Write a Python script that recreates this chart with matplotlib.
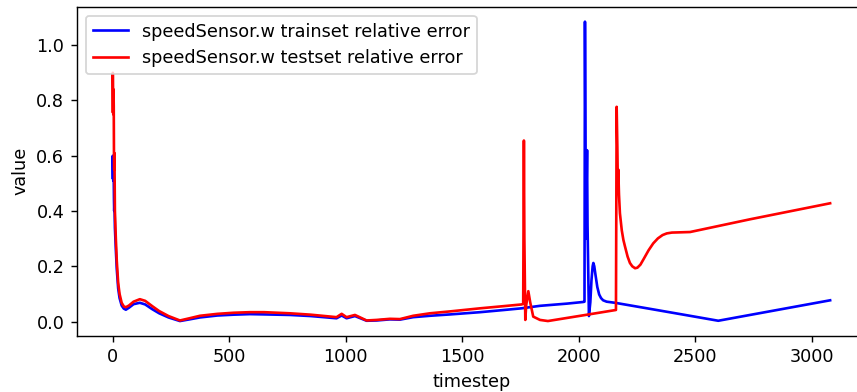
import matplotlib
matplotlib.use("Agg")
import matplotlib.pyplot as plt

train_x = [0, 1, 2, 3, 4, 5, 6, 7, 8, 10, 14, 18, 24, 30, 39, 48, 57, 70, 90, 117, 140, 170,
           200, 240, 289, 330, 375, 450, 520, 589, 650, 761, 850, 961, 983, 1004, 1040, 1090,
           1133, 1190, 1233, 1290, 1362, 1450, 1577, 1680, 1755, 1834, 1950, 2020, 2025, 2027,
           2031, 2036, 2038, 2044, 2050, 2055, 2060, 2063, 2067, 2072, 2080, 2088, 2096, 2105,
           2120, 2156, 2300, 2450, 2599, 2800, 3079]
train_y = [0.52, 0.60, 0.55, 0.51, 0.56, 0.52, 0.44, 0.40, 0.43, 0.34, 0.26, 0.19, 0.12, 0.085,
           0.058, 0.047, 0.043, 0.050, 0.063, 0.068, 0.062, 0.045, 0.030, 0.015, 0.002, 0.008,
           0.015, 0.022, 0.025, 0.027, 0.026, 0.024, 0.020, 0.012, 0.022, 0.012, 0.020, 0.003,
           0.004, 0.008, 0.007, 0.016, 0.021, 0.026, 0.034, 0.042, 0.048, 0.057, 0.065, 0.071,
           0.072, 1.085, 0.30, 0.62, 0.35, 0.02, 0.07, 0.15, 0.20, 0.212, 0.20, 0.17, 0.125,
           0.098, 0.085, 0.077, 0.072, 0.068, 0.047, 0.025, 0.003, 0.034, 0.077]

test_x = [0, 1, 2, 3, 4, 5, 6, 7, 8, 10, 14, 18, 24, 30, 39, 48, 57, 70, 90, 117, 140, 170,
          200, 240, 289, 330, 375, 450, 520, 589, 650, 761, 850, 961, 983, 1004, 1040, 1090,
          1133, 1190, 1233, 1290, 1362, 1450, 1577, 1680, 1755, 1762, 1765, 1767, 1771, 1775,
          1784, 1792, 1805, 1834, 1868, 2000, 2160, 2163, 2166, 2168, 2170, 2173, 2177, 2185,
          2192, 2199, 2210, 2220, 2230, 2242, 2252, 2265, 2280, 2300, 2320, 2340, 2360, 2378,
          2400, 2440, 2478, 2735, 3079]
test_y = [0.76, 0.90, 0.83, 0.75, 0.84, 0.78, 0.60, 0.55, 0.61, 0.40, 0.30, 0.22, 0.14, 0.10,
          0.068, 0.055, 0.052, 0.058, 0.072, 0.081, 0.075, 0.056, 0.038, 0.020, 0.004, 0.012,
          0.021, 0.028, 0.032, 0.034, 0.034, 0.030, 0.025, 0.016, 0.028, 0.016, 0.024, 0.004,
          0.006, 0.010, 0.009, 0.021, 0.030, 0.037, 0.048, 0.056, 0.062, 0.064, 0.655, 0.30,
          0.006, 0.06, 0.110, 0.07, 0.018, 0.006, 0.002, 0.020, 0.042, 0.777, 0.63, 0.50,
          0.55, 0.46, 0.392, 0.33, 0.295, 0.271, 0.235, 0.212, 0.200, 0.193, 0.195, 0.206,
          0.228, 0.258, 0.283, 0.301, 0.313, 0.319, 0.322, 0.323, 0.324, 0.370, 0.428]

labels = ["speedSensor.w trainset relative error", "speedSensor.w testset relative error"]

DPI = 127
W, H = 857, 392
fig = plt.figure(figsize=(W / DPI, H / DPI), dpi=DPI)
# the axes run slightly past the right edge of the picture (cropped original)
left, right, top, bottom = 76.7, 866, 6.7, 336
ax = fig.add_axes([left / W, 1 - bottom / H, (right - left) / W, (bottom - top) / H])
ax.plot(train_x, train_y, color="blue", linewidth=1.5, label=labels[0])
ax.plot(test_x, test_y, color="red", linewidth=1.5, label=labels[1])
ax.spines["right"].set_visible(False)
ax.set_xlabel("timestep")
ax.set_ylabel("value")
ax.legend(loc="upper left")
fig.savefig("out.png", dpi=DPI)
